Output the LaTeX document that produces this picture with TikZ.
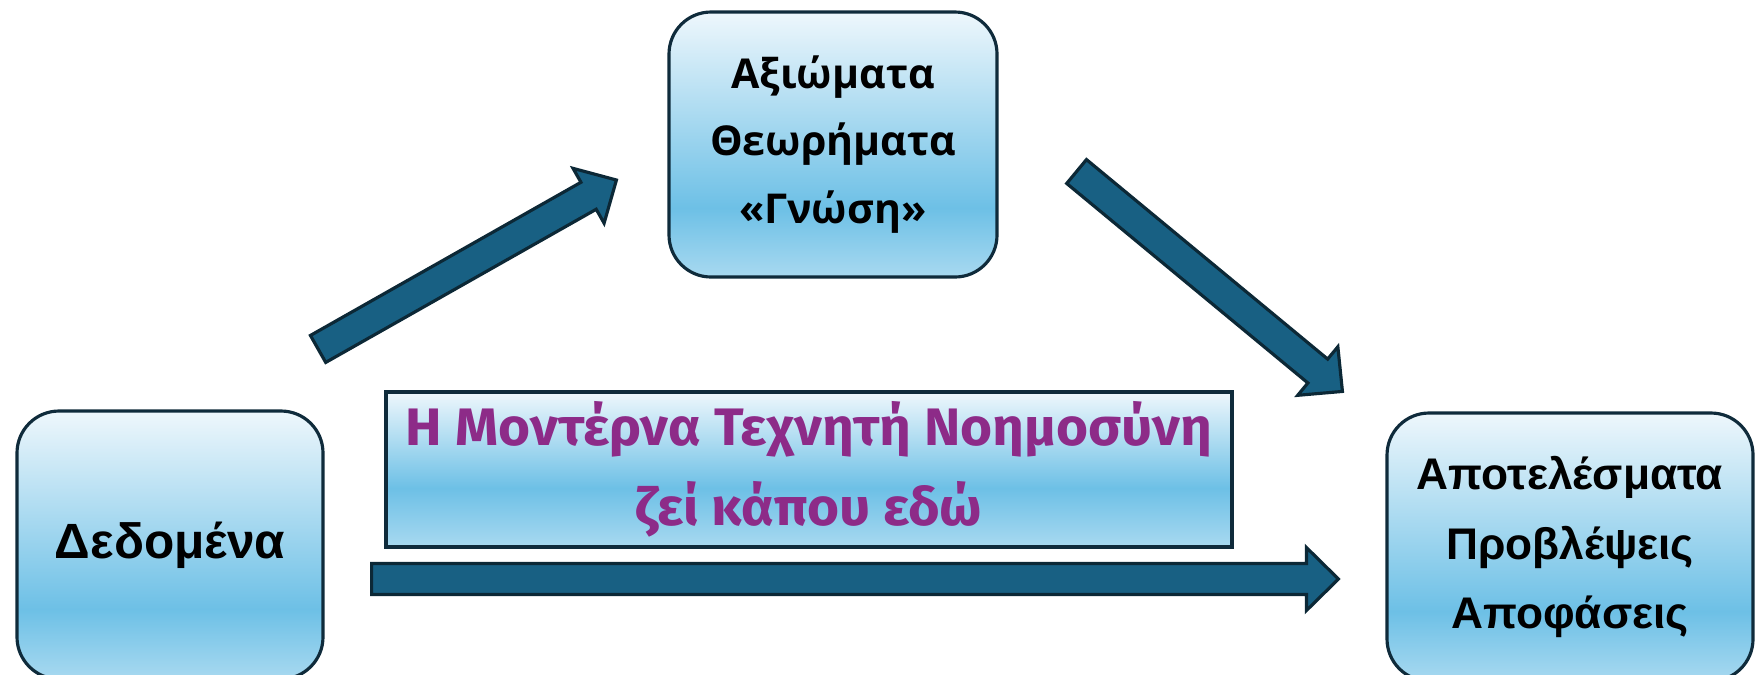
\documentclass[tikz,border=0pt]{standalone}
\usepackage{fontspec}
\setmainfont{Liberation Sans}
\newfontfamily\knowfont{Open Sans}
\newfontfamily\aifont[FakeStretch=1.04]{Fira Sans}
\usetikzlibrary{calc,positioning}

\definecolor{boxtop}{HTML}{EEF7FC}
\definecolor{boxdeep}{HTML}{6DC0E6}
\definecolor{boxbottom}{HTML}{A8D9F0}
\definecolor{boxedge}{HTML}{0F2B3B}
\definecolor{arrowfill}{HTML}{186083}
\definecolor{arrowedge}{HTML}{0C2836}
\definecolor{aitext}{HTML}{8D2B88}

\pgfdeclareverticalshading{boxfade}{100bp}{color(0bp)=(boxbottom); color(25bp)=(boxbottom);
  color(38bp)=(boxdeep); color(75bp)=(boxtop); color(100bp)=(boxtop)}
\pgfdeclareverticalshading{bannerfade}{100bp}{color(0bp)=(boxbottom); color(25bp)=(boxbottom);
  color(44bp)=(boxdeep); color(75bp)=(boxtop); color(100bp)=(boxtop)}

\tikzset{
  blocknode/.style={
    rectangle,
    rounded corners=0.42cm,
    shading=boxfade,
    draw=boxedge, line width=0.9pt,
    inner sep=0pt,
    align=center},
  banner/.style={
    rectangle,
    shading=bannerfade,
    draw=boxedge, line width=0.9pt,
    inner sep=0pt,
    align=center,
    text=aitext},
  % block arrow: shaft 0.31cm, head 0.63cm wide and 0.32cm long
  fatarrow/.style={
    draw=arrowedge, fill=arrowfill, line width=0.9pt, line join=miter,
    to path={
      let \p1=(\tikztostart), \p2=(\tikztotarget),
          \p3=($(\p2)!0.32cm!(\p1)$) in
      ($(\p1)!0.155cm!90:(\p2)$) -- ($(\p3)!0.155cm!90:(\p2)$)
      -- ($(\p3)!0.315cm!90:(\p2)$) -- (\p2)
      -- ($(\p3)!0.315cm!-90:(\p2)$) -- ($(\p3)!0.155cm!-90:(\p2)$)
      -- ($(\p1)!0.155cm!-90:(\p2)$) -- cycle}}
}

\begin{document}
\begin{tikzpicture}
  \useasboundingbox (0,0) rectangle (17.56,6.74);

  \node[blocknode, minimum width=3.06cm, minimum height=2.68cm,
    font=\bfseries\fontsize{14.1}{16}\selectfont] (Data) at (1.70,1.29) {Δεδομένα};
  \node[blocknode, minimum width=3.28cm, minimum height=2.65cm,
    font=\knowfont\bfseries\fontsize{11.7}{19.3}\selectfont] (Knowledge) at (8.33,5.295)
    {Αξιώματα\\Θεωρήματα\\«Γνώση»};
  \node[blocknode, minimum width=3.66cm, minimum height=2.68cm,
    font=\bfseries\fontsize{12.6}{19.9}\selectfont] (Results) at (15.70,1.27)
    {Αποτελέσματα\\Προβλέψεις\\Αποφάσεις};

  \node[banner, minimum width=8.46cm, minimum height=1.55cm,
    font=\aifont\bfseries\fontsize{15}{22.7}\selectfont] (ModernAI) at (8.09,2.045)
    {Η Μοντέρνα Τεχνητή Νοημοσύνη\\ζεί κάπου εδώ};

  % arrow ends
  \coordinate (DataOut) at ($(Data.north east)+(-0.065,0.605)$);
  \coordinate (KnowIn) at ($(Knowledge.west)+(-0.51,-0.355)$);
  \coordinate (KnowOut) at ($(Knowledge.east)+(0.78,-0.27)$);
  \coordinate (ResultsIn) at ($(Results.north west)+(-0.43,0.20)$);
  \coordinate (DirectOut) at ($(Data.east)+(0.47,-0.34)$);
  \coordinate (DirectIn) at ($(Results.west)+(-0.47,-0.32)$);

  \draw[fatarrow] (DataOut) to (KnowIn);
  \draw[fatarrow] (KnowOut) to (ResultsIn);
  \draw[fatarrow] (DirectOut) to (DirectIn);
\end{tikzpicture}
\end{document}
